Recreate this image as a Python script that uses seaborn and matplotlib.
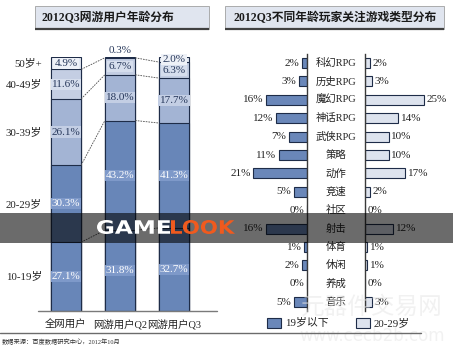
import matplotlib
matplotlib.use("Agg")
import matplotlib.pyplot as plt
import matplotlib.transforms as mtransforms
from matplotlib.patches import Rectangle, PathPatch
from matplotlib.textpath import TextPath
from matplotlib.font_manager import FontProperties
import numpy as np
import seaborn as sns

sns.set_theme(style="white")
plt.rcParams["font.family"] = ["Liberation Serif", "Noto Sans CJK SC", "DejaVu Sans"]

# ---- age distribution (stacked, bottom to top) ----
groups = ["全网用户", "网游用户Q2", "网游用户Q3"]
age_bands = ["10-19岁", "20-29岁", "30-39岁", "40-49岁", "50岁+"]
share_all = [27.1, 30.3, 26.1, 11.6, 4.9]
share_q2 = [31.8, 43.2, 18.0, 6.7, 0.3]
share_q3 = [32.7, 41.3, 17.7, 6.3, 2.0]

# ---- genre interest by age group ----
genres = ["科幻RPG", "历史RPG", "魔幻RPG", "神话RPG", "武侠RPG", "策略", "动作",
          "竞速", "社区", "射击", "体育", "休闲", "养成", "音乐"]
under19 = [2, 3, 16, 12, 7, 11, 21, 5, 0, 16, 1, 2, 0, 5]
age20_29 = [2, 3, 25, 14, 10, 10, 17, 2, 0, 12, 1, 1, 0, 3]
legend_labels = ["19岁以下", "20-29岁"]

W, H = 453, 347
fig = plt.figure(figsize=(W / 100, H / 100), dpi=100)


def px_axes(x0, y0, x1, y1, **kw):
    return fig.add_axes([x0 / W, 1 - y1 / H, (x1 - x0) / W, (y1 - y0) / H], **kw)


EDGE = "#1e2c48"
TXT = "#222222"
DARK_LBL = "#26375a"
VAL_FS = 8

# ---------------- left: stacked columns ----------------
axL = px_axes(39, 57, 201, 311)
shares = np.array([share_all, share_q2, share_q3])
cum = shares.cumsum(axis=1)
seg_colors = ["#6886b8", "#6886b8", "#a3b4d4", "#c4cee3", "#e5eaf3"]
box_colors = ["#7e99c9", "#7e99c9", "#c3cee4", "#d6deed", "#eef1f7"]

for k in reversed(range(len(age_bands))):
    sns.barplot(x=groups, y=list(cum[:, k]), order=groups, color=seg_colors[k],
                saturation=1, width=0.56, edgecolor=EDGE, linewidth=0.8,
                errorbar=None, ax=axL)

axL.set_xlim(-0.5, 2.5)
axL.set_ylim(0, 100)
axL.set_xlabel("")
axL.set_ylabel("")
axL.set_yticks([])
axL.set_xticks(range(len(groups)))
axL.set_xticklabels(groups, fontsize=7.5, color=TXT)
axL.tick_params(axis="x", length=0, pad=6.5)
for s in axL.spines.values():
    s.set_visible(False)
axL.patch.set_alpha(0)

# series lines joining segment boundaries
for g in range(len(groups) - 1):
    for k in range(len(age_bands) - 1):
        axL.plot([g + 0.28, g + 1 - 0.28], [cum[g, k], cum[g + 1, k]],
                 color="#4d4d4d", lw=0.6, ls=(0, (2, 1.2)), zorder=3)

# segment value labels
for g in range(len(groups)):
    for k in range(len(age_bands)):
        v = shares[g, k]
        if v < 1:
            axL.annotate(f"{v:.1f}%", xy=(g, cum[g, k]), xytext=(0, 5),
                         textcoords="offset points", ha="center", va="center",
                         fontsize=VAL_FS, color=DARK_LBL, annotation_clip=False)
            continue
        y = cum[g, k] - v / 2
        col = "white" if k < 2 else DARK_LBL
        axL.text(g, y, f"{v:.1f}%", ha="center", va="center", fontsize=VAL_FS,
                 color=col, zorder=4,
                 bbox=dict(boxstyle="square,pad=0.1", fc=box_colors[k], ec="none"))

# age band names beside the first column
for k, band in enumerate(age_bands):
    axL.text(-0.445, cum[0, k] - shares[0, k] / 2, band, ha="right", va="center",
             fontsize=7.8, color=TXT)

# ---------------- right: butterfly bars ----------------
axA = px_axes(243, 53.8, 307, 311.4)
axB = px_axes(365, 53.8, 431, 311.4)

sns.barplot(x=under19, y=genres, order=genres, orient="h", color="#6a87b9",
            saturation=1, width=0.55, edgecolor=EDGE, linewidth=0.8,
            errorbar=None, ax=axA)
sns.barplot(x=age20_29, y=genres, order=genres, orient="h", color="#dde3ee",
            saturation=1, width=0.55, edgecolor=EDGE, linewidth=0.8,
            errorbar=None, ax=axB)

axA.set_xlim(25, 0)
axB.set_xlim(0, 28)
for ax, keep in ((axA, "right"), (axB, "left")):
    ax.set_xlabel("")
    ax.set_ylabel("")
    ax.set_xticks([])
    ax.set_yticks([])
    ax.patch.set_alpha(0)
    for name, s in ax.spines.items():
        s.set_visible(name == keep)
        s.set_color("#3a3a3a")
        s.set_linewidth(1.0)

for i, v in enumerate(under19):
    axA.annotate(f"{v}%", xy=(v, i), xytext=(-2, 0), textcoords="offset points",
                 ha="right", va="center", fontsize=VAL_FS, color=TXT)
for i, v in enumerate(age20_29):
    axB.annotate(f"{v}%", xy=(v, i), xytext=(2, 0), textcoords="offset points",
                 ha="left", va="center", fontsize=VAL_FS, color=TXT)

mid = mtransforms.blended_transform_factory(fig.transFigure, axB.transData)
for i, name in enumerate(genres):
    axB.text(336 / W, i, name, transform=mid, ha="center", va="center",
             fontsize=7.5, color=TXT)

# ---------------- frame: titles, legend, source, watermark ----------------
ov = fig.add_axes([0, 0, 1, 1], zorder=10)
ov.set_xlim(0, W)
ov.set_ylim(H, 0)
ov.axis("off")
ov.patch.set_alpha(0)

for x0, w in ((35, 174), (225, 219)):
    ov.add_patch(Rectangle((x0, 6), w, 23, fc="#e0e5ef", ec="#a0a0a0", lw=0.6))
    ov.plot([x0, x0 + w], [29, 29], color="#404040", lw=1.6, solid_capstyle="butt")
ov.text(42, 17.5, "2012Q3网游用户年龄分布", fontsize=8.5, fontweight="bold",
        ha="left", va="center", color="#1a1a1a")
ov.text(335, 17.5, "2012Q3不同年龄玩家关注游戏类型分布", fontsize=8.5,
        fontweight="bold", ha="center", va="center", color="#1a1a1a")

ov.plot([38, 217], [311, 311], color="#7a7a7a", lw=1.0)
ov.plot([0, 421], [333, 333], color="#6b6b6b", lw=1.0)
ov.text(2, 342, "数据来源：百度数据研究中心，2012年10月", fontsize=4.5,
        ha="left", va="center", color="#333333")

ov.add_patch(Rectangle((267, 318), 14, 10, fc="#6a87b9", ec=EDGE, lw=0.8))
ov.text(285, 323, legend_labels[0], fontsize=7.8, ha="left", va="center", color=TXT)
ov.add_patch(Rectangle((356, 318), 14, 10, fc="#dde3ee", ec=EDGE, lw=0.8))
ov.text(374, 323, legend_labels[1], fontsize=7.8, ha="left", va="center", color=TXT)

# faint site marks
ov.text(372, 307, "元器件交易网", fontsize=17, color="#e4e4e4", alpha=0.5,
        ha="center", va="center", family=["Noto Sans CJK SC"], zorder=0)
ov.text(372, 336, "www.cecb2b.com", fontsize=12, color="#e4e4e4", alpha=0.5,
        ha="center", va="center", family=["DejaVu Sans"], zorder=0)

# translucent brand band across the figure
ov.add_patch(Rectangle((0, 213), W, 30, fc="black", alpha=0.58, lw=0, zorder=5))
brand_fp = FontProperties(family="DejaVu Sans", weight="bold")


def brand_word(text, x0, x1, y0, y1, color):
    tp = TextPath((0, 0), text, size=10, prop=brand_fp)
    ext = tp.get_extents()
    tr = (mtransforms.Affine2D()
          .translate(-ext.x0, -ext.y0)
          .scale((x1 - x0) / ext.width, -(y1 - y0) / ext.height)
          .translate(x0, y1)) + ov.transData
    ov.add_patch(PathPatch(tp, fc=color, ec="none", transform=tr, zorder=6))


brand_word("GAME", 97, 170, 220, 234, "white")
brand_word("LOOK", 171, 235, 220, 234, "#f05a1e")

fig.savefig("out.png", dpi=100)
